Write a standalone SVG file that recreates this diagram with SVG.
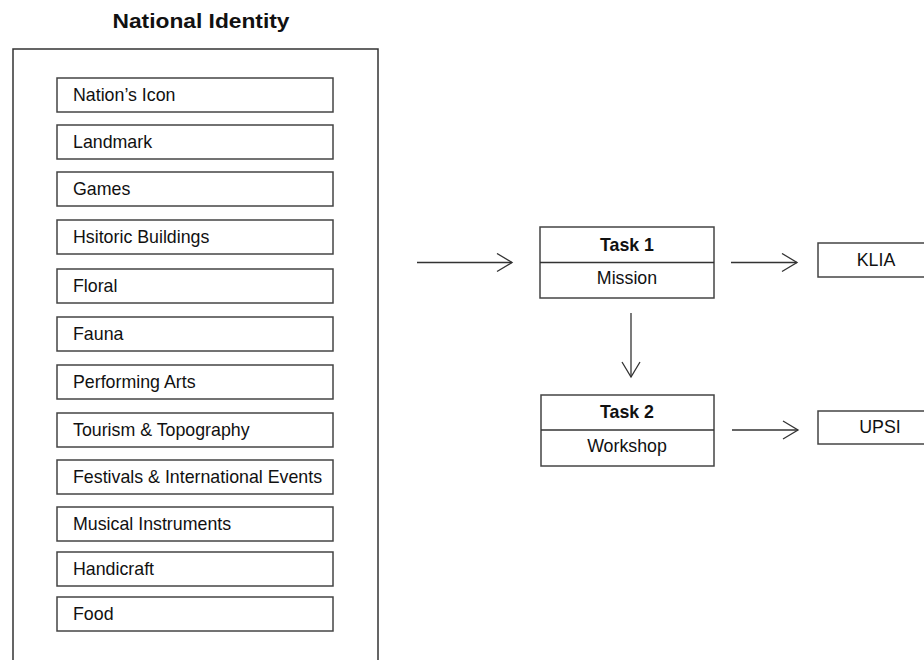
<svg xmlns="http://www.w3.org/2000/svg" width="924" height="660" viewBox="0 0 924 660">
<defs>
<style>
.box{fill:#fff;stroke:#444;stroke-width:1.5}
.frame{fill:#fff;stroke:#333;stroke-width:1.5}
.t{font-family:"Liberation Sans",Arial,sans-serif;font-size:17.8px;fill:#111}
.c{text-anchor:middle}
.b{font-weight:bold}
.title{font-family:"Liberation Sans",Arial,sans-serif;font-size:20.5px;font-weight:bold;fill:#111;text-anchor:middle}
.con{fill:none;stroke:#333;stroke-width:1.3}
</style>
<marker id="arr" viewBox="0 0 20 20" refX="18" refY="10" markerWidth="20" markerHeight="20" markerUnits="userSpaceOnUse" orient="auto">
<path d="M3,1 L18,10 L3,19" fill="none" stroke="#333" stroke-width="1.3"/>
</marker>
</defs>
<rect width="924" height="660" fill="#fff"/>
<text class="title" x="201" y="28" textLength="177" lengthAdjust="spacingAndGlyphs">National Identity</text>
<g id="national-identity">
<rect class="frame" x="13" y="49" width="365" height="620"/>
</g>
<g id="item-nations-icon"><rect class="box" x="57" y="78" width="276" height="34"/><text class="t" x="73" y="101">Nation’s Icon</text></g>
<g id="item-landmark"><rect class="box" x="57" y="125" width="276" height="34"/><text class="t" x="73" y="148">Landmark</text></g>
<g id="item-games"><rect class="box" x="57" y="172" width="276" height="34"/><text class="t" x="73" y="195">Games</text></g>
<g id="item-historic"><rect class="box" x="57" y="220" width="276" height="34"/><text class="t" x="73" y="243">Hsitoric Buildings</text></g>
<g id="item-floral"><rect class="box" x="57" y="269" width="276" height="34"/><text class="t" x="73" y="292">Floral</text></g>
<g id="item-fauna"><rect class="box" x="57" y="317" width="276" height="34"/><text class="t" x="73" y="340">Fauna</text></g>
<g id="item-performing"><rect class="box" x="57" y="365" width="276" height="34"/><text class="t" x="73" y="388">Performing Arts</text></g>
<g id="item-tourism"><rect class="box" x="57" y="413" width="276" height="34"/><text class="t" x="73" y="436">Tourism &amp; Topography</text></g>
<g id="item-festivals"><rect class="box" x="57" y="460" width="276" height="34"/><text class="t" x="73" y="483">Festivals &amp; International Events</text></g>
<g id="item-musical"><rect class="box" x="57" y="507" width="276" height="34"/><text class="t" x="73" y="530">Musical Instruments</text></g>
<g id="item-handicraft"><rect class="box" x="57" y="552" width="276" height="34"/><text class="t" x="73" y="575">Handicraft</text></g>
<g id="item-food"><rect class="box" x="57" y="597" width="276" height="34"/><text class="t" x="73" y="620">Food</text></g>
<g id="task1">
<rect class="box" x="540" y="227" width="174" height="71"/>
<line class="con" x1="540" y1="262.5" x2="714" y2="262.5"/>
<text class="t c b" x="627" y="250.5" font-size="17">Task 1</text>
<text class="t c" x="627" y="283.5">Mission</text>
</g>
<g id="task2">
<rect class="box" x="541" y="395" width="173" height="71"/>
<line class="con" x1="541" y1="430" x2="714" y2="430"/>
<text class="t c b" x="627" y="417.5" font-size="17">Task 2</text>
<text class="t c" x="627" y="452">Workshop</text>
</g>
<g id="klia"><rect class="box" x="818" y="243" width="120" height="34"/><text class="t c" x="876" y="266">KLIA</text></g>
<g id="upsi"><rect class="box" x="818" y="411" width="120" height="33"/><text class="t c" x="880" y="433">UPSI</text></g>
<g id="connectors">
<line class="con" x1="417" y1="262.5" x2="512" y2="262.5" marker-end="url(#arr)"/>
<line class="con" x1="731" y1="262.5" x2="797" y2="262.5" marker-end="url(#arr)"/>
<line class="con" x1="631" y1="313" x2="631" y2="377" marker-end="url(#arr)"/>
<line class="con" x1="732" y1="430" x2="798" y2="430" marker-end="url(#arr)"/>
</g>
</svg>
